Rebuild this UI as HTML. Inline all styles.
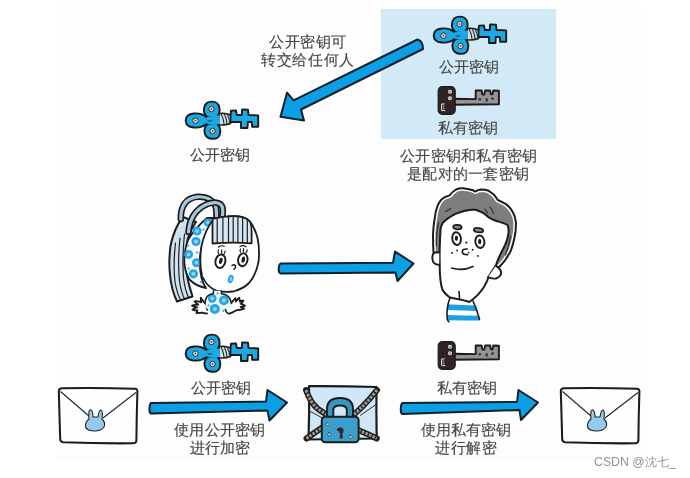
<!DOCTYPE html>
<html><head><meta charset="utf-8">
<style>
html,body{margin:0;padding:0;background:#fff;}
body{width:690px;height:478px;position:relative;overflow:hidden;font-family:"Liberation Sans",sans-serif;}
.t{position:absolute;will-change:transform;font-size:15px;line-height:15px;color:#474747;white-space:nowrap;-webkit-text-stroke:0.15px #474747;}
svg{position:absolute;left:0;top:0;}
</style></head><body>
<svg width="690" height="478" viewBox="0 0 690 478">
<defs>
<g id="pubkey">
  <path d="M34,14.7 L44.4,14.7 L45,9.7 L50,9.4 L50.8,14 L55.8,14 L56.1,8.4 L62,8.7 L62.5,14 L72.2,14.4 L72.2,25.8 L66.2,25.8 L65.8,21 L61.8,21 L61.5,27 L55,27 L55,21 L44.4,21 L34,22.5 Z" fill="#1ca8e2" stroke="#1a1a1a" stroke-width="1.9" stroke-linejoin="round"/>
  <path d="M33,12.6 Q39,11.5 44.5,14 L44.5,22.5 Q39,24.5 33,23.8 Z" fill="#cfdfe8" stroke="#1a1a1a" stroke-width="1.7" stroke-linejoin="round"/>
  <path d="M35.2,13 Q37.5,17.5 38.2,23.8 M38.3,12.7 Q40.6,17.5 41.3,24 M41.3,13.2 Q43.4,17.5 44,23.2" fill="none" stroke="#2a2a2a" stroke-width="1.1"/>
  <path d="M21,16.5 C14,10.5 -0.3,10.8 -0.3,19.5 C-0.3,28.2 14,28.5 21,22.5 Z" fill="#1ca8e2" stroke="#1a1a1a" stroke-width="1.9" stroke-linejoin="round"/>
  <path d="M22,23 C16.5,26.5 17,37.8 26.8,37.8 C36,37.8 36,27 30.5,22 Z" fill="#1ca8e2" stroke="#1a1a1a" stroke-width="1.9" stroke-linejoin="round"/>
  <path d="M21.5,16 C16,12.5 16.5,0.6 25.8,0.6 C35,0.6 35.5,12 30,16.5 Z" fill="#1ca8e2" stroke="#1a1a1a" stroke-width="1.9" stroke-linejoin="round"/>
  <path d="M18,16.8 Q24,15 31,14.5 L34,14.5 L34,23 L30,23.5 Q24,24 18,22.5 Z" fill="#1ca8e2"/>
  <path d="M19.5,14.2 Q21.5,16 19.5,16.5 M20,24.5 Q21.5,22.5 19.8,22.3" fill="none" stroke="#1a1a1a" stroke-width="1.2"/>
  <circle cx="25.5" cy="8" r="2.7" fill="#eaeaea" stroke="#2a2a2a" stroke-width="1"/>
  <circle cx="25.5" cy="8" r="1" fill="#7a4a40"/>
  <circle cx="9.5" cy="19.6" r="2.7" fill="#eaeaea" stroke="#2a2a2a" stroke-width="1"/>
  <circle cx="9.5" cy="19.6" r="1" fill="#7a4a40"/>
  <circle cx="26.5" cy="30" r="2.7" fill="#eaeaea" stroke="#2a2a2a" stroke-width="1"/>
  <circle cx="26.5" cy="30" r="1" fill="#7a4a40"/>
  <path d="M21.8,19 Q22.6,21.6 23.8,19.8 Q25,21.6 25.9,19" fill="none" stroke="#1a3a55" stroke-width="0.9"/>
</g>
<g id="privkey">
  <path d="M17,13.3 L38.7,13.6 L38.7,5 L44.6,5 L45.4,9.1 L47.3,9.1 L48.1,5 L53.1,5 L53.9,8.8 L55.5,8.8 L56.3,5 L61.9,5.2 L61.9,18.8 L38,19 L17,19.3 Z" fill="#979393" stroke="#1e1a1a" stroke-width="1.9" stroke-linejoin="round"/>
  <rect x="1.2" y="1.1" width="17" height="27.8" rx="4.2" fill="#2f2424" stroke="#1e1a1a" stroke-width="1.2"/>
  <circle cx="13" cy="6.3" r="2" fill="#e0e0e0"/><circle cx="13" cy="6.3" r="0.8" fill="#555"/>
  <circle cx="13" cy="12.7" r="2" fill="#e0e0e0"/><circle cx="13" cy="12.7" r="0.8" fill="#555"/>
  <path d="M7.8,18.3 L4.6,18.8 L4.6,24.8 L8.2,25.2" fill="none" stroke="#ddd" stroke-width="1.1"/>
  <path d="M7.6,20.2 L6.3,20.4 L6.3,23.2 L7.8,23.3" fill="none" stroke="#bbb" stroke-width="0.7"/>
  <circle cx="42.8" cy="13.8" r="1.4" fill="#3a3a3a"/>
  <ellipse cx="49.7" cy="14.4" rx="1.3" ry="1.9" fill="#3a3a3a"/>
  <circle cx="55.6" cy="13.1" r="1.4" fill="#3a3a3a"/>
</g>
<g id="envelope">
  <path d="M58.8,391 Q59,388.3 62,388.3 Q98,387.6 135,388.8 Q137.6,389 137.4,391.5 Q136.6,416 136.4,440.5 Q136.2,443.3 133,443.3 Q98,443.6 63,442.2 Q60.4,442 60.2,439 Q59.5,415 58.8,391 Z" fill="#fefefe" stroke="#1c1c1c" stroke-width="2.05" stroke-linejoin="round"/>
  <path d="M60.5,391.5 L89,416 M136,392.5 L103,418" stroke="#2a2a2a" stroke-width="1.2" fill="none"/>
  <path d="M89,419 Q88,409 91,410 Q93,411 93,417 L98,417 Q99,410 101,410 Q103,411 102,419 Q106,423 104,427 Q101,431 95,431 Q87,431 85.5,427 Q85,422 89,419 Z" fill="#93cbef" stroke="#222" stroke-width="1.1" stroke-linejoin="round"/>
</g>
</defs>

<rect x="56" y="6" width="586" height="454" fill="#fdfdfd"/>
<!-- light blue box -->
<rect x="381" y="9" width="175" height="130" fill="#d2e9f8"/>

<!-- diagonal arrow -->
<path d="M417.5,39.5 Q423,41 423,49 L301,109.5 L304,120.5 L280.5,116.8 L287,92.7 L293.6,100.3 Z" fill="#0d9fe6" stroke="#12202a" stroke-width="2" stroke-linejoin="round"/>

<!-- middle arrow -->
<path d="M281,263.5 L393,262.8 L395,251.5 L413.5,263.5 L397.5,281 L395.5,272.5 L281,273.5 Q278.5,273 278.7,268.5 Q279,263.8 281,263.5 Z" fill="#0d9fe6" stroke="#12202a" stroke-width="2" stroke-linejoin="round"/>

<!-- bottom arrow 1 -->
<path d="M151,403 L266,401.5 L267.5,390 L287,402.5 L269.5,420.5 L267.5,410.5 L151,413.5 Q149,413 149.5,408 Q150,403.5 151,403 Z" fill="#0d9fe6" stroke="#12202a" stroke-width="2" stroke-linejoin="round"/>

<!-- bottom arrow 2 -->
<path d="M402.5,403 L517,402 L518.5,390 L538,402.5 L521,420 L519.5,410 L402.5,414 Q400.5,413.5 400.8,408.5 Q401,403.5 402.5,403 Z" fill="#0d9fe6" stroke="#12202a" stroke-width="2" stroke-linejoin="round"/>

<!-- keys -->
<use href="#pubkey" transform="translate(186,101)"/>
<use href="#pubkey" transform="translate(434,16)"/>
<use href="#pubkey" transform="translate(186,334)"/>
<use href="#privkey" transform="translate(437,85.5)"/>
<use href="#privkey" transform="translate(437,340.5)"/>

<!-- envelopes -->
<use href="#envelope"/>
<use href="#envelope" transform="translate(502,0)"/>

<!-- lock envelope -->
<g stroke-linejoin="round" stroke-linecap="round">
  <path d="M309,386.2 Q343,386 376.5,387 Q376.2,412 376.7,438.5 Q343,439 308.5,439.5 Q309.5,412 309,386.2 Z" fill="#cfe7f6" stroke="#1c1c1c" stroke-width="2.2"/>
  <path d="M309.5,411 L322.5,418 M376,404.5 L360.5,415.3" stroke="#2a2a2a" stroke-width="1" fill="none"/>
  <path d="M306,390 Q310.5,403 318,409 Q324,413 330,417" stroke="#1c1c1c" stroke-width="6" fill="none"/>
  <path d="M306,390 Q310.5,403 318,409 Q324,413 330,417" stroke="#a09a95" stroke-width="3" fill="none" stroke-dasharray="2.6 1.3" stroke-linecap="butt"/>
  <path d="M306.5,438.5 Q314,433 323,427" stroke="#1c1c1c" stroke-width="6" fill="none"/>
  <path d="M306.5,438.5 Q314,433 323,427" stroke="#a09a95" stroke-width="3" fill="none" stroke-dasharray="2.6 1.3" stroke-linecap="butt"/>
  <path d="M377,390 Q370,399 363,406 Q358,411 352,416" stroke="#1c1c1c" stroke-width="6" fill="none"/>
  <path d="M377,390 Q370,399 363,406 Q358,411 352,416" stroke="#a09a95" stroke-width="3" fill="none" stroke-dasharray="2.6 1.3" stroke-linecap="butt"/>
  <path d="M358,430 Q368,434 376.8,438.5" stroke="#1c1c1c" stroke-width="6" fill="none"/>
  <path d="M358,430 Q368,434 376.8,438.5" stroke="#a09a95" stroke-width="3" fill="none" stroke-dasharray="2.6 1.3" stroke-linecap="butt"/>
  <path d="M327,418 L327,409 Q327,398 340,398 Q353,398 353,409 L353,418 L346.8,418 L346.8,410 Q346.8,405.5 340,405.5 Q333.3,405.5 333.3,410 L333.3,418 Z" fill="#3897bd" stroke="#1c1c1c" stroke-width="1.9"/>
  <rect x="321.8" y="416.7" width="36.8" height="25.5" rx="3.5" fill="#3a9fcc" stroke="#1c1c1c" stroke-width="2"/>
  <path d="M340.2,431 m-3.4,0 a3.4,3.4 0 1,1 6.8,0 q0,1.6 -1.3,2.5 l0.7,5 l-3.6,0 l0.7,-5 q-1.3,-0.9 -1.3,-2.5 Z" fill="#3a2626"/>
  <rect x="326.2" y="422.8" width="3" height="2.8" rx="0.9" fill="#d5e8f2" stroke="#1c3a4a" stroke-width="0.7"/>
  <rect x="327.8" y="433" width="3" height="2.8" rx="0.9" fill="#d5e8f2" stroke="#1c3a4a" stroke-width="0.7"/>
  <rect x="349" y="435.5" width="3" height="2.8" rx="0.9" fill="#d5e8f2" stroke="#1c3a4a" stroke-width="0.7"/>
</g>

<!-- girl -->
<g stroke="#1c1c1c" stroke-linejoin="round" stroke-linecap="round">
  <!-- ponytail strip -->
  <path d="M183,217 Q174,228 170.5,246 Q168.5,262 170,275 Q171.5,290 177,301.5 L192.5,296.5 Q187.5,282 186,268 Q184.5,252 188,238 Q191,229 196,222 Z" fill="#cfe3ef" stroke-width="2"/>
  <path d="M175.5,243 Q173,265 175,282 Q177,293 180.5,300 M180,238 Q177.5,262 179.5,281 Q181,292 184.5,299 M184.5,234 Q182,258 183.5,278 Q185,290 188.5,297.5" fill="none" stroke-width="1.2"/>
  <!-- crescent headband -->
  <path d="M207,218 Q194,229 188,240 Q183.5,252 184.5,265 Q186,275 190,280 Q196,286 206,288 Q200,280 199.8,262 Q200,248 205,239 Q210,229 218,218 Z" fill="#f3f8fb" stroke-width="1.8"/>
  <g fill="#29a4e2" stroke="none">
    <circle cx="207.8" cy="222.5" r="4"/><circle cx="197" cy="231" r="4.6"/><circle cx="196" cy="241.5" r="4.6"/><circle cx="188.6" cy="254.4" r="4.5"/><circle cx="196.5" cy="262.7" r="4.5"/><circle cx="193.4" cy="273.8" r="4.6"/>
    <circle cx="188" cy="245.5" r="1.1"/><circle cx="197" cy="252.5" r="1.1"/><circle cx="188.8" cy="268.5" r="1.1"/><circle cx="201" cy="282" r="1.1"/><circle cx="203.5" cy="229.5" r="1.1"/>
  </g>
  <g fill="#8fd3f5" stroke="none">
    <circle cx="207.8" cy="222.5" r="1.7"/><circle cx="197" cy="231" r="2"/><circle cx="196" cy="241.5" r="2"/><circle cx="188.6" cy="254.4" r="1.9"/><circle cx="196.5" cy="262.7" r="1.9"/><circle cx="193.4" cy="273.8" r="2"/>
  </g>
  <!-- loops -->
  <path d="M180.8,219 C180.5,206 186,198 197.6,196.8 C206,196.3 212.5,199.5 215.5,206 C216.5,209 216.5,212 216.5,216" fill="none" stroke="#1c1c1c" stroke-width="6.6"/>
  <path d="M180.8,219 C180.5,206 186,198 197.6,196.8 C206,196.3 212.5,199.5 215.5,206 C216.5,209 216.5,212 216.5,216" fill="none" stroke="#a8c6d8" stroke-width="3.2"/>
  <path d="M188.5,232 C189.5,219 196,209 206.8,204.2 C214,201.5 220.5,202 222.3,207 C223.3,210.5 222.8,214 222,218" fill="none" stroke="#1c1c1c" stroke-width="6.6"/>
  <path d="M188.5,232 C189.5,219 196,209 206.8,204.2 C214,201.5 220.5,202 222.3,207 C223.3,210.5 222.8,214 222,218" fill="none" stroke="#a8c6d8" stroke-width="3.2"/>
  <!-- face -->
  <path d="M213,220 Q205,230 201.5,246 Q199,262 202,276 Q207,287 216.3,290.6 Q225,292.5 233.2,291.5 Q243,289 249,283 Q256,275 258.5,262 Q260,250 257.5,238 Q255,228 250,221.5 Q245.5,216.8 238,216.3 Q225,215.5 213,220 Z" fill="#fff" stroke-width="1.8"/>
  <!-- bangs -->
  <path d="M212.5,219 Q226,215.2 238.5,216.3 Q246.5,217.2 250.3,222 Q251.8,226 251.6,232 L251.6,243.3 Q232,242 212.5,243.5 Z" fill="#d3e6f1" stroke-width="1.8"/>
  <path d="M217.2,217.5 L217.2,243 M222.9,216.5 L222.9,242.5 M228.5,216 L228.5,242.3 M233.2,216 L233.2,242.3 M237.9,216.2 L237.9,242.5 M242.6,216.8 L242.6,242.7 M247.3,218.5 L247.3,243" fill="none" stroke-width="1.2"/>
  
  <!-- eyes -->
  <ellipse cx="220.4" cy="261.2" rx="4.9" ry="6.8" fill="#fff" stroke-width="1.9" transform="rotate(12 220.4 261.2)"/>
  <ellipse cx="220.8" cy="260.8" rx="1.7" ry="3.2" fill="#1c1c1c" stroke="none" transform="rotate(12 220.8 260.8)"/>
  <ellipse cx="242.8" cy="259.8" rx="4.7" ry="6.5" fill="#fff" stroke-width="1.9" transform="rotate(10 242.8 259.8)"/>
  <ellipse cx="243.3" cy="259.6" rx="1.7" ry="3.2" fill="#1c1c1c" stroke="none" transform="rotate(10 243.3 259.6)"/>
  <path d="M218.5,253.5 Q217.5,251.5 218.5,250 M221.5,253.2 L221.8,249.8 M224,254 Q225,252 225.2,251 M240.5,252.3 Q239.5,250.5 240.5,249 M243.3,252 L243.6,248.6 M246,252.8 Q247,251 247.2,249.8" fill="none" stroke-width="1.2"/>
  <path d="M218.6,247 Q220.8,245 224.3,246.2 M240,246.5 Q243,244.8 246.2,246.8" fill="none" stroke-width="1.2"/>
  <path d="M232,265.5 Q234,264 235.5,265.8 Q236,267.5 234,269.2" fill="none" stroke-width="1.5"/>
  <ellipse cx="230.7" cy="279" rx="2.7" ry="4.3" fill="#29a4e2" stroke="none" transform="rotate(18 230.7 279)"/>
  <ellipse cx="230.9" cy="279" rx="1.1" ry="2.3" fill="#8fd3f5" stroke="none" transform="rotate(18 230.7 279)"/>
  <!-- body -->
  <path d="M213.5,290.8 L213,294 Q207,294.5 205.5,299 Q204,305 205,309 Q215,315 226,311 Q231.5,306 231.5,301 Q230.5,295.5 221.5,294 L221.5,290.8 Z" fill="#eef7fc" stroke="none"/>
  <g fill="#29a4e2" stroke="none">
    <circle cx="212.2" cy="298.3" r="4.4"/><circle cx="223.9" cy="300.4" r="4.9"/><circle cx="214.8" cy="309" r="5"/>
    <circle cx="208.5" cy="305.5" r="1.1"/><circle cx="223.5" cy="310.8" r="1.1"/><circle cx="217.5" cy="293.5" r="1"/>
  </g>
  <g fill="#8fd3f5" stroke="none">
    <circle cx="212.2" cy="298.3" r="1.9"/><circle cx="223.9" cy="300.4" r="2.1"/><circle cx="214.8" cy="309" r="2.1"/>
  </g>
  <path d="M213.5,291 L213.3,293.8 Q207.5,294.5 206,298.5 Q204.3,303 204.5,306.5 Q205,309 207.5,310" fill="none" stroke-width="1.6"/>
  <path d="M221.3,291 L221.5,293.8 Q227.5,294.5 229.8,298.5 Q231.5,302.5 232,305" fill="none" stroke-width="1.6"/>
  <path d="M225.5,309.6 Q226.5,313.5 229.5,313.8 Q233,312.5 236.6,309.6" fill="none" stroke-width="1.6"/>
  <!-- hands -->
  <path d="M205,303.5 Q202,299.5 200.8,297.8 Q200.5,300.5 201.3,302.3 Q197,300.8 194.5,301.3 Q196,303.5 198.3,304.6 Q194,304.8 192,305.6 Q194.5,307 197.3,307.4 Q194,308.2 192.5,309.6 Q195,310.5 197.5,310.4 Q196.5,312 196.5,313.2 Q199.5,313 202.5,312.6 Q205,313.5 207,313.5" fill="#fff" stroke-width="1.8"/>
  <path d="M231.5,303 Q233.5,300 235.5,298.2 Q236.2,300 235.9,301.6 Q237.5,299 239.2,297.8 Q240,299.5 239.6,301.4 Q241.5,300.5 243.4,300.6 Q242.5,302.5 240.6,303.6 Q243,304.5 245,305.8 Q243,307 240.6,307 Q242.5,307.8 244.2,308.6 Q240.5,310 236.6,310.2 Q233,312 229.5,313.5" fill="#fff" stroke-width="1.8"/>
</g>

<!-- boy -->
<g stroke="#1c1c1c" stroke-linejoin="round" stroke-linecap="round">
  <!-- shirt -->
  <path d="M450,298 Q460,302 473,301 Q478,310 479.5,319.5 L449,321.8 Q446,310 450,298 Z" fill="#fff" stroke="none"/>
  <path d="M447.8,304.3 Q463,305 476.2,305.4 L477.5,310.9 Q463,310.5 447.2,310 Z M447.3,314.9 Q463,315.5 479,315.8 L480,320.5 Q463,320.5 447.8,320.2 Z" fill="#1d9fe0" stroke="none"/>
  <path d="M449.9,298 Q446,308 447.3,319.3 Q447.8,321 449,321.8 M473,301 Q477,310 479.5,319.3" fill="none" stroke-width="1.6"/>
  <!-- hair -->
  <path d="M433.9,258 Q433,248 433,235.3 Q433.5,225 434.7,218.5 Q435.5,211 437.8,205.2 Q439.5,201.5 441.7,199.3 Q445,196.5 449.6,195.4 Q452.5,191.5 456.1,189.5 Q459,188 462.6,188.2 Q468,188.5 473,190.2 Q474.5,191.5 475.6,191.5 Q478,189.8 480.9,189.5 Q485,189.5 488.7,190.8 Q491.5,192.5 493.9,194.7 Q496,197.5 497.8,200 Q502,202 505.6,203.9 Q508.5,206 510.9,209.1 Q513.5,212.5 514.8,216.9 Q515.5,220 516,223 Q516,232 514.3,238.5 Q513,245 511,250.2 Q508,256 505,260.3 Q502,264 499.2,267 L470,270 L433.9,262 Z" fill="#7e7e7e" stroke="#fdfdfd" stroke-width="5"/>
  <path d="M433.9,258 Q433,248 433,235.3 Q433.5,225 434.7,218.5 Q435.5,211 437.8,205.2 Q439.5,201.5 441.7,199.3 Q445,196.5 449.6,195.4 Q452.5,191.5 456.1,189.5 Q459,188 462.6,188.2 Q468,188.5 473,190.2 Q474.5,191.5 475.6,191.5 Q478,189.8 480.9,189.5 Q485,189.5 488.7,190.8 Q491.5,192.5 493.9,194.7 Q496,197.5 497.8,200 Q502,202 505.6,203.9 Q508.5,206 510.9,209.1 Q513.5,212.5 514.8,216.9 Q515.5,220 516,223 Q516,232 514.3,238.5 Q513,245 511,250.2 Q508,256 505,260.3 Q502,264 499.2,267 L470,270 L433.9,262 Z" fill="none" stroke-width="2"/>
  <!-- face -->
  <path d="M439.7,262 Q439.5,255 439.7,248.7 Q440,238 440.6,228.6 Q441.5,225 443,222.5 Q445.5,220 448.3,218.2 Q452,215.5 456.1,213.6 Q460,212 464,211 Q468,210 471.7,209.7 L475.6,209.7 Q479,210.8 482.2,212.3 Q485,214 487.4,216.3 Q490,218 492.6,219.5 Q496.5,221 500.4,222.1 Q504,223 507.6,225 Q509,229 508.5,233.5 Q507.5,240 505,245.2 Q502.5,250 500,255.2 Q497.5,260 496,265.3 Q492,271 489,276 Q487,282 484,287 Q478,296 469.3,302 Q463,300 459.8,299.5 Q452,298 449.5,297.3 Q444,293 442.2,289 Q439.5,280 439.7,262 Z" fill="#fff" stroke-width="2"/>
  <path d="M439.3,252.6 Q432,251 432.3,258.5 Q433,265 439.2,264.8" fill="#fff" stroke-width="1.9"/>
  <path d="M496,265.8 Q500,268 501,271.5 Q502,276 496,278.5 Q491,279 488,277" fill="#fff" stroke-width="1.9"/>
  <path d="M459,291.5 Q459.5,296 459.5,299" fill="none" stroke-width="1.6"/>
  <!-- hair highlights -->
  <path d="M445.5,211.5 Q448.5,210 450.8,208.5 M484.8,209 Q487,211.5 487.5,213 M490,207 Q492.5,210.5 493.5,213.5 M436.5,246 Q436,233 438.5,222 M510.5,236 Q509,246 505.5,255" fill="none" stroke="#2a2a2a" stroke-width="1.1"/>
  <!-- eyebrows -->
  <ellipse cx="457.4" cy="227.1" rx="4.2" ry="2.2" fill="#8a8a8a" stroke-width="1.7" transform="rotate(4 457.4 227.1)"/>
  <ellipse cx="478.5" cy="230.2" rx="4.7" ry="2.1" fill="#8a8a8a" stroke-width="1.7" transform="rotate(8 478.5 230.2)"/>
  <!-- eyes -->
  <ellipse cx="456.6" cy="238.6" rx="4.3" ry="6.4" fill="#fff" stroke-width="1.9" transform="rotate(-8 456.6 238.6)"/>
  <ellipse cx="456.4" cy="238.2" rx="1.6" ry="2.7" fill="#1c1c1c" stroke="none"/>
  <ellipse cx="479.9" cy="241.7" rx="4.5" ry="6.3" fill="#fff" stroke-width="1.9" transform="rotate(-8 479.9 241.7)"/>
  <ellipse cx="479.7" cy="241.4" rx="1.6" ry="2.7" fill="#1c1c1c" stroke="none"/>
  <!-- nose -->
  <path d="M467.3,249 Q462.2,248.8 462.3,251.8 Q462.8,255 467.5,254.6" fill="none" stroke-width="1.7"/>
  <g fill="#1c1c1c" stroke="none">
    <circle cx="452.1" cy="253" r="1"/><circle cx="457.1" cy="250.5" r="0.9"/><circle cx="472.6" cy="249.7" r="1"/><circle cx="468.6" cy="252.6" r="0.9"/><circle cx="478" cy="256" r="0.9"/><circle cx="466.3" cy="242.6" r="1.1"/>
  </g>
  <!-- mouth -->
  <path d="M451.7,268 Q462,271.5 473,266.4" fill="none" stroke-width="1.7"/>
</g>
</svg>

<div class="t" style="left:269px;top:34px;letter-spacing:0.5px">公开密钥可</div>
<div class="t" style="left:261px;top:52px;letter-spacing:0.7px">转交给任何人</div>
<div class="t" style="left:190px;top:147px;">公开密钥</div>
<div class="t" style="left:439px;top:59px;">公开密钥</div>
<div class="t" style="left:438px;top:120px;">私有密钥</div>
<div class="t" style="left:400px;top:148px;letter-spacing:0.3px">公开密钥和私有密钥</div>
<div class="t" style="left:407px;top:166px;letter-spacing:0.3px">是配对的一套密钥</div>
<div class="t" style="left:191px;top:380px;">公开密钥</div>
<div class="t" style="left:174px;top:422px;letter-spacing:0.3px">使用公开密钥</div>
<div class="t" style="left:190px;top:440px;">进行加密</div>
<div class="t" style="left:437px;top:380px;">私有密钥</div>
<div class="t" style="left:421px;top:422px;">使用私有密钥</div>
<div class="t" style="left:435px;top:440px;letter-spacing:0.6px">进行解密</div>
<div class="t" style="left:594px;top:456px;font-size:12.3px;line-height:13px;color:#929292;-webkit-text-stroke:0">CSDN @沈七_</div>
</body></html>
